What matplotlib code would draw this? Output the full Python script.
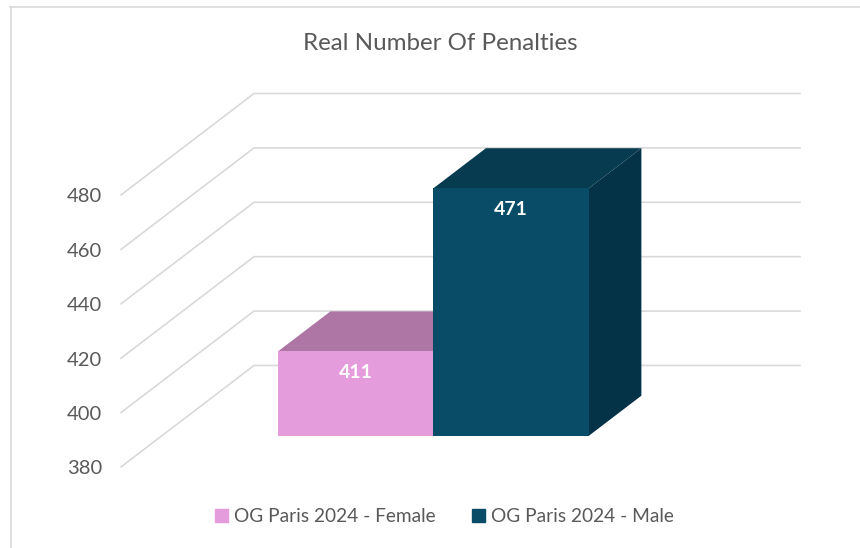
import matplotlib
matplotlib.use('Agg')
import matplotlib.pyplot as plt
from matplotlib.lines import Line2D
from matplotlib.patches import Patch

plt.rcParams['font.family'] = ['Lato', 'DejaVu Sans']

# data
categories = ['OG Paris 2024 - Female', 'OG Paris 2024 - Male']
values = [411, 471]
ticks = [380, 400, 420, 440, 460, 480]
title = 'Real Number Of Penalties'

front_colors = ['#E59CDC', '#094C68']
top_colors = ['#AD76A5', '#073B50']
side_colors = ['#AD76A5', '#043247']
grid_color = '#D9D9D9'
text_color = '#595959'

# oblique projection settings, in axis units
DEPTH_X = 133 / 155.5
DEPTH_Y = 101.5 / 2.72
BAR_FRONT = 0.308
BAR_BACK = 0.702
BASE = ticks[0]


def project(x, v, depth):
    return x + (depth - BAR_FRONT) * DEPTH_X, v + (depth - BAR_FRONT) * DEPTH_Y


def face(ax, corners, color, z):
    xs = [c[0] for c in corners]
    ys = [c[1] for c in corners]
    ax.fill(xs, ys, color=color, lw=0, zorder=z)


fig = plt.figure(figsize=(8.6, 5.48), dpi=100, facecolor='white')
ax = fig.add_axes([0, 0, 1, 1])
ax.set_xlim(-2.288, 3.243)
ax.set_ylim(338.7, 540.2)
ax.axis('off')

# chart frame, only top and left show
fig.add_artist(Line2D([10.5 / 860, 10.5 / 860], [0, 1 - 7 / 548], color=grid_color, lw=1.2))
fig.add_artist(Line2D([10 / 860, 1], [1 - 7 / 548, 1 - 7 / 548], color=grid_color, lw=1.2))

# walls
wall_left = (121 - 355.75) / 155.5 + BAR_FRONT * DEPTH_X
wall_right = (800 - 355.75) / 155.5 - (1 - BAR_FRONT) * DEPTH_X
for t in ticks:
    p0 = project(wall_left, t, 0)
    p1 = project(wall_left, t, 1)
    p2 = project(wall_right, t, 1)
    ax.plot([p0[0], p1[0], p2[0]], [p0[1], p1[1], p2[1]], color=grid_color, lw=1.2, zorder=1)
    ax.text(p0[0] - 0.122, p0[1] - 0.7, str(t), ha='right', va='center', fontsize=14.5, color=text_color)

# bars
for i, v in enumerate(values):
    left = i - 0.5
    right = i + 0.5
    z = 2 + i
    face(ax, [project(left, v, BAR_FRONT), project(right, v, BAR_FRONT),
              project(right, v, BAR_BACK), project(left, v, BAR_BACK)], top_colors[i], z)
    face(ax, [project(right, BASE, BAR_FRONT), project(right, v, BAR_FRONT),
              project(right, v, BAR_BACK), project(right, BASE, BAR_BACK)], side_colors[i], z)
    face(ax, [project(left, BASE, BAR_FRONT), project(right, BASE, BAR_FRONT),
              project(right, v, BAR_FRONT), project(left, v, BAR_FRONT)], front_colors[i], z)
    ax.text(i, v - 7.8, str(v), ha='center', va='center', fontsize=14,
            fontweight='bold', color='white', zorder=5)

ax.text(440.5 / 860, 1 - 43 / 548, title, transform=ax.transAxes, ha='center', va='center',
        fontsize=17.4, color=text_color)

handles = [Patch(color=front_colors[i], label=categories[i]) for i in range(2)]
ax.legend(handles=handles, loc='center', bbox_to_anchor=(444.5 / 860, 1 - 517 / 548), ncol=2,
          frameon=False, fontsize=13.8, labelcolor=text_color, handlelength=0.68, handleheight=0.68,
          handletextpad=0.3, columnspacing=1.9, borderpad=0, borderaxespad=0)

plt.savefig('out.png', dpi=100)
